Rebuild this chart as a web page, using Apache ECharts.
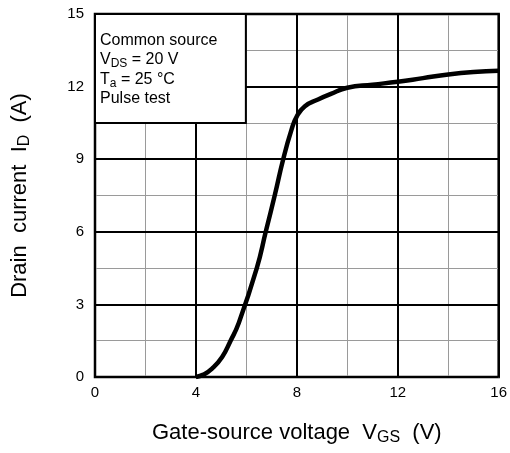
<!DOCTYPE html>
<html>
<head>
<meta charset="utf-8">
<script src="https://cdn.jsdelivr.net/npm/echarts@6/dist/echarts.min.js"></script>
<style>
  html, body { margin: 0; padding: 0; background: #fff; }
  #chart { width: 510px; height: 453px; }
</style>
</head>
<body>
<div id="chart"></div>
<script>
// Transfer characteristic: drain current vs gate-source voltage
const vgs = [4.0, 4.3, 4.64, 5.04, 5.37, 5.69, 6.41, 6.77, 7.13, 7.46, 7.79, 8.0, 8.32, 8.84, 9.35, 10.0, 11.0, 12.0, 13.0, 14.0, 15.0, 16.0];
const idA = [0.0, 0.1, 0.35, 0.83, 1.49, 2.21, 4.49, 6.01, 7.53, 9.0, 10.22, 10.77, 11.19, 11.47, 11.7, 11.95, 12.08, 12.2, 12.35, 12.5, 12.6, 12.65];

const xRange = [0, 16];
const yRange = [0, 15];
const conditions = ['Common source', 'V|DS| = 20 V', 'T|a| = 25 °C', 'Pulse test'];
const FONT = '"Liberation Sans", Arial, Helvetica, sans-serif';

const curve = vgs.map((v, i) => [v, idA[i]]);

// Condition text as rich text; "A|B|C" means A, subscript B, then C
const condText = conditions.map(line => {
  const p = line.split('|');
  if (p.length === 1) return '{t|' + p[0] + '}';
  return '{t|' + p[0] + '}{s|' + p[1] + '}{t|' + p[2] + '}';
}).join('\n');

const chart = echarts.init(document.getElementById('chart'), null, { renderer: 'canvas' });

const minorLine = { show: true, lineStyle: { color: '#9a9a9a', width: 1 } };
const majorLine = { show: true, lineStyle: { color: '#000', width: 2 } };
const titleRich = {
  t: { fontFamily: FONT, fontSize: 22, color: '#000' },
  s: { fontFamily: FONT, fontSize: 16, color: '#000', padding: [11, 0, 0, 0] }
};

chart.setOption({
  animation: false,
  backgroundColor: '#fff',
  grid: {
    left: 95, right: 8, top: 14, bottom: 76,
    show: true, borderColor: '#000', borderWidth: 2.5, backgroundColor: 'transparent'
  },
  xAxis: [
    {
      type: 'value', min: xRange[0], max: xRange[1], interval: 4, z: 1,
      name: '{t|Gate-source voltage  V}{s|GS}{t|  (V)}',
      nameLocation: 'middle', nameGap: 42,
      nameTextStyle: { rich: titleRich },
      axisLine: { show: false }, axisTick: { show: false },
      axisLabel: { color: '#000', fontFamily: FONT, fontSize: 15, margin: 8 },
      splitLine: majorLine
    },
    {
      type: 'value', min: xRange[0], max: xRange[1], interval: 2, z: 0,
      axisLine: { show: false }, axisTick: { show: false }, axisLabel: { show: false },
      splitLine: minorLine
    }
  ],
  yAxis: [
    {
      type: 'value', min: yRange[0], max: yRange[1], interval: 3, z: 1,
      name: '{t|Drain  current  I}{s|D}{t|  (A)}',
      nameLocation: 'middle', nameGap: 62, nameRotate: 90,
      nameTextStyle: { rich: titleRich },
      axisLine: { show: false }, axisTick: { show: false },
      axisLabel: { color: '#000', fontFamily: FONT, fontSize: 15, margin: 11 },
      splitLine: majorLine
    },
    {
      type: 'value', min: yRange[0], max: yRange[1], interval: 1.5, z: 0,
      axisLine: { show: false }, axisTick: { show: false }, axisLabel: { show: false },
      splitLine: minorLine
    }
  ],
  series: [
    {
      type: 'line', xAxisIndex: 0, yAxisIndex: 0, z: 5,
      data: curve, smooth: 0.5, symbol: 'none',
      lineStyle: { color: '#000', width: 4.5 },
      markArea: {
        silent: true,
        itemStyle: { color: '#fff', opacity: 1, borderColor: '#000', borderWidth: 2 },
        label: {
          show: true, position: 'insideTopLeft', distance: 0,
          padding: [18, 0, 0, 6],
          formatter: condText,
          rich: {
            t: { fontFamily: FONT, fontSize: 16, color: '#000', lineHeight: 19.3 },
            s: { fontFamily: FONT, fontSize: 12, color: '#000', lineHeight: 19.3, padding: [8, 0, 0, 0] }
          }
        },
        data: [[{ coord: [0, 15] }, { coord: [5.98, 10.5] }]]
      }
    }
  ]
});
</script>
</body>
</html>
